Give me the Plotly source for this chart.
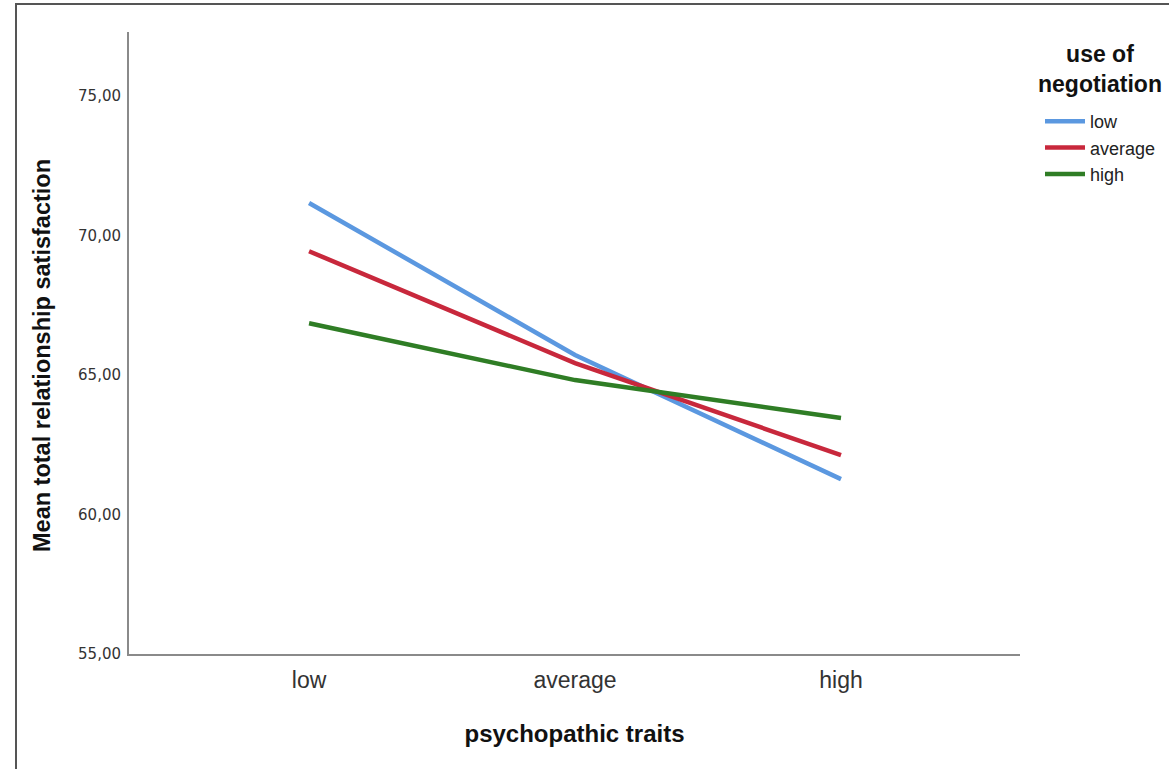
import plotly.graph_objects as go

categories = ["low", "average", "high"]
series_names = ["low", "average", "high"]
low_vals = [71.17, 65.72, 61.27]
average_vals = [69.44, 65.43, 62.13]
high_vals = [66.86, 64.82, 63.46]
y_ticks = [55, 60, 65, 70, 75]

colors = ["#5b98e0", "#c8283c", "#2f7d25"]
fig = go.Figure()
for name, vals, c in zip(series_names, [low_vals, average_vals, high_vals], colors):
    fig.add_trace(go.Scatter(x=categories, y=vals, mode="lines", name=name,
                             line=dict(color=c, width=4.5)))

W, H = 1169, 769
L, R, T, B = 129, 149, 32, 115
pw, ph = W - L - R, H - T - B

def px(x):
    return (x - L) / pw

def py(y):
    return 1 - (y - T) / ph

title_font = dict(size=24, family="Liberation Sans, Arial", color="#111")

fig.update_layout(
    width=W, height=H,
    margin=dict(l=L, r=R, t=T, b=B, autoexpand=False),
    paper_bgcolor="white", plot_bgcolor="white",
    separators=",.",
    font=dict(family="Liberation Sans, Arial", color="#222"),
    xaxis=dict(range=[-0.677, 2.673], showgrid=False, zeroline=False,
               showline=True, linecolor="#8a8a8a", linewidth=2, ticks="",
               ticklabelstandoff=4,
               tickfont=dict(size=23, family="Liberation Sans, Arial", color="#333"),
               title=dict(text="<b>psychopathic traits</b>", standoff=34, font=title_font)),
    yaxis=dict(range=[55, 77.3], tickvals=y_ticks, tickformat=".2f", showgrid=False,
               zeroline=False, showline=True, linecolor="#8a8a8a", linewidth=2, ticks="",
               ticklabelstandoff=3,
               tickfont=dict(size=15, family="DejaVu Sans", color="#333")),
    legend=dict(x=px(1040), y=py(103), xanchor="left", yanchor="top",
                font=dict(size=18, family="Liberation Sans, Arial", color="#222"),
                itemwidth=40, tracegroupgap=0),
    annotations=[
        dict(text="<b>Mean total relationship satisfaction</b>", textangle=-90,
             xref="paper", yref="paper", x=px(42), y=py(356), showarrow=False,
             xanchor="center", yanchor="middle", font=dict(size=23.5, family="Liberation Sans, Arial", color="#111")),
        dict(text="<b>use of<br>negotiation</b>", xref="paper", yref="paper", x=px(1100), y=py(69),
             showarrow=False, xanchor="center", yanchor="middle", align="center",
             font=dict(size=23, family="Liberation Sans, Arial", color="#111")),
    ],
    shapes=[dict(type="rect", xref="paper", yref="paper",
                 x0=px(16), x1=px(1180), y0=py(780), y1=py(4),
                 line=dict(color="#555", width=2))],
)

fig.write_html("out.html", config={"displayModeBar": False},
               post_script="document.body.style.margin='0';document.body.style.padding='0';")
